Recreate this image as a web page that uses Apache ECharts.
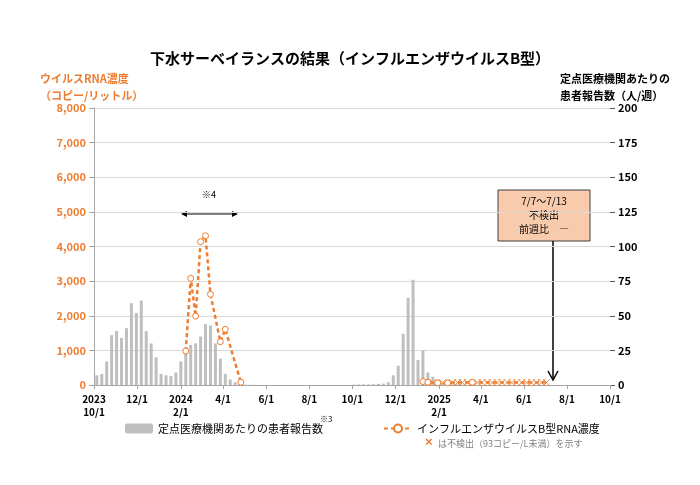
<!DOCTYPE html>
<html><head><meta charset="utf-8">
<script src="https://cdn.jsdelivr.net/npm/echarts@6/dist/echarts.min.js"></script>
<style>html,body{margin:0;padding:0;background:#fff}#c{width:700px;height:485px}</style>
</head><body><div id="c"></div>
<script>
// 日数は 2023/10/1 からの経過日
var tickDays = [0, 61, 123, 183, 244, 305, 366, 427, 489, 548, 609, 670, 731];
var tickLabels = ['2023\n10/1', '12/1', '2024\n2/1', '4/1', '6/1', '8/1', '10/1', '12/1', '2025\n2/1', '4/1', '6/1', '8/1', '10/1'];

// 定点医療機関あたりの患者報告数（週ごと、第1週=10/5頃）
var patients = [7, 8, 17, 36, 39, 34, 41, 59, 52, 61, 39, 30, 20, 8, 7, 6.5, 9, 17, 23, 29, 30, 35, 44, 43, 30, 19, 8, 4, 2, 1,
  0.3, 0.2, 0.1, 0, 0, 0, 0, 0, 0, 0, 0, 0, 0, 0, 0, 0, 0, 0, 0, 0, 0, 0, 0.3, 0.4, 0.5, 0.5, 0.6, 0.8, 1, 2, 7, 14, 37, 63, 76, 18, 25, 9, 6, 3, 1.5, 1, 0.5, 0.5, 0.3];

// RNA濃度（検出あり）
var rnaDays = [130, 137, 144, 151, 158, 165, 179, 186, 208];
var rnaVals = [980, 3080, 1990, 4140, 4310, 2620, 1250, 1610, 80];
// 2025年 週ごと（null = 不検出）
var rna2025Start = 466;
var rna2025 = [100, 80, null, 60, null, 60, null, null, null, null, 80, null, null, null, null, null, null, null, null, null, null, null, null, null, null, null];
var ndLevel = 70;

var barData = patients.map(function (v, i) { return [4 + 7 * i, v]; });
var lineData = rnaDays.map(function (d, i) { return [d, rnaVals[i]]; });
lineData.push([rnaDays[rnaDays.length - 1] + 20, null]);
var ndData = [];
rna2025.forEach(function (v, k) {
  var d = rna2025Start + 7 * k;
  if (v === null) { lineData.push({ value: [d, ndLevel], symbol: 'none' }); ndData.push([d, ndLevel]); }
  else lineData.push([d, v]);
});

var orange = '#ed7d31';
var chart = echarts.init(document.getElementById('c'));
chart.setOption({
  animation: false,
  textStyle: { fontFamily: 'Noto Sans CJK JP' },
  title: { text: '下水サーベイランスの結果（インフルエンザウイルスB型）', left: 'center', top: 46,
    textStyle: { fontSize: 15, fontWeight: 'bold', color: '#000' } },
  grid: { left: 94, right: 90, top: 108, bottom: 100 },
  legend: {
    bottom: 46, left: 120, itemGap: 60, itemWidth: 28, itemHeight: 10,
    textStyle: { fontSize: 11, color: '#000' },
    data: ['定点医療機関あたりの患者報告数', 'インフルエンザウイルスB型RNA濃度']
  },
  xAxis: {
    type: 'value', min: 0, max: 731,
    axisLine: { lineStyle: { color: '#a6a6a6' } },
    axisTick: { show: true, customValues: tickDays, length: 4, lineStyle: { color: '#a6a6a6' } },
    axisLabel: { customValues: tickDays, fontSize: 10, fontWeight: 'bold', color: '#000', lineHeight: 13,
      formatter: function (v) { return tickLabels[tickDays.indexOf(v)] || ''; } },
    splitLine: { show: false }
  },
  yAxis: [{
    type: 'value', min: 0, max: 8000, interval: 1000, position: 'left',
    axisLine: { show: true, lineStyle: { color: '#a6a6a6' } },
    axisLabel: { color: orange, fontWeight: 'bold', fontSize: 11,
      formatter: function (v) { return v.toLocaleString('en-US'); } },
    splitLine: { lineStyle: { color: '#d9d9d9' } }
  }, {
    type: 'value', min: 0, max: 200, interval: 25, position: 'right',
    axisLine: { show: false },
    axisLabel: { color: '#000', fontWeight: 'bold', fontSize: 11 },
    splitLine: { show: false }
  }],
  series: [{
    name: '定点医療機関あたりの患者報告数', type: 'bar', yAxisIndex: 1, barWidth: 3,
    itemStyle: { color: '#bfbfbf' }, data: barData
  }, {
    name: 'インフルエンザウイルスB型RNA濃度', type: 'line', yAxisIndex: 0,
    symbol: 'circle', symbolSize: 6, connectNulls: false,
    lineStyle: { color: orange, width: 2.5, type: [4, 3] },
    itemStyle: { color: '#fff', borderColor: orange, borderWidth: 1 },
    data: lineData
  }, {
    name: '不検出', type: 'scatter', yAxisIndex: 0,
    symbol: 'path://M0,0L10,10M10,0L0,10', symbolSize: 7,
    itemStyle: { color: 'none', borderColor: orange, borderWidth: 1 },
    data: ndData
  }],
  graphic: [
    { type: 'text', left: 40, top: 70, style: { text: 'ウイルスRNA濃度\n（コピー/リットル）', fill: orange, fontSize: 11, fontWeight: 'bold', lineHeight: 17, fontFamily: 'Noto Sans CJK JP' } },
    { type: 'text', right: 30, top: 70, style: { text: '定点医療機関あたりの\n患者報告数（人/週）', fill: '#000', fontSize: 11, fontWeight: 'bold', lineHeight: 17, align: 'right', fontFamily: 'Noto Sans CJK JP' } },
    { type: 'text', left: 202, top: 190, style: { text: '※4', fill: '#000', fontSize: 9, fontFamily: 'Noto Sans CJK JP' } },
    { type: 'line', shape: { x1: 183, y1: 214, x2: 236, y2: 214 }, style: { stroke: '#000', lineWidth: 1 } },
    { type: 'polygon', shape: { points: [[181, 214], [187, 211], [187, 217]] }, style: { fill: '#000' } },
    { type: 'polygon', shape: { points: [[238, 214], [232, 211], [232, 217]] }, style: { fill: '#000' } },
    { type: 'rect', shape: { x: 498, y: 190, width: 92, height: 51 }, style: { fill: '#f8cbad', stroke: '#404040', lineWidth: 1 } },
    { type: 'text', x: 544, y: 194, style: { text: '7/7～7/13\n不検出\n前週比　―', fill: '#000', fontSize: 10, lineHeight: 14, align: 'center', fontFamily: 'Noto Sans CJK JP' } },
    { type: 'line', shape: { x1: 553, y1: 241, x2: 553, y2: 378 }, style: { stroke: '#000', lineWidth: 1.5 } },
    { type: 'polyline', shape: { points: [[548, 371], [553, 380], [558, 371]] }, style: { stroke: '#000', lineWidth: 1.5, fill: 'none' } },
    { type: 'text', left: 320, top: 415, style: { text: '※3', fill: '#000', fontSize: 8, fontFamily: 'Noto Sans CJK JP' } },
    { type: 'text', left: 425, top: 436, style: { text: '×', fill: orange, fontSize: 13, fontWeight: 'bold' } },
    { type: 'text', left: 438, top: 439, style: { text: 'は不検出（93コピー/L未満）を示す', fill: '#808080', fontSize: 9, fontFamily: 'Noto Sans CJK JP' } }
  ]
});
</script></body></html>
